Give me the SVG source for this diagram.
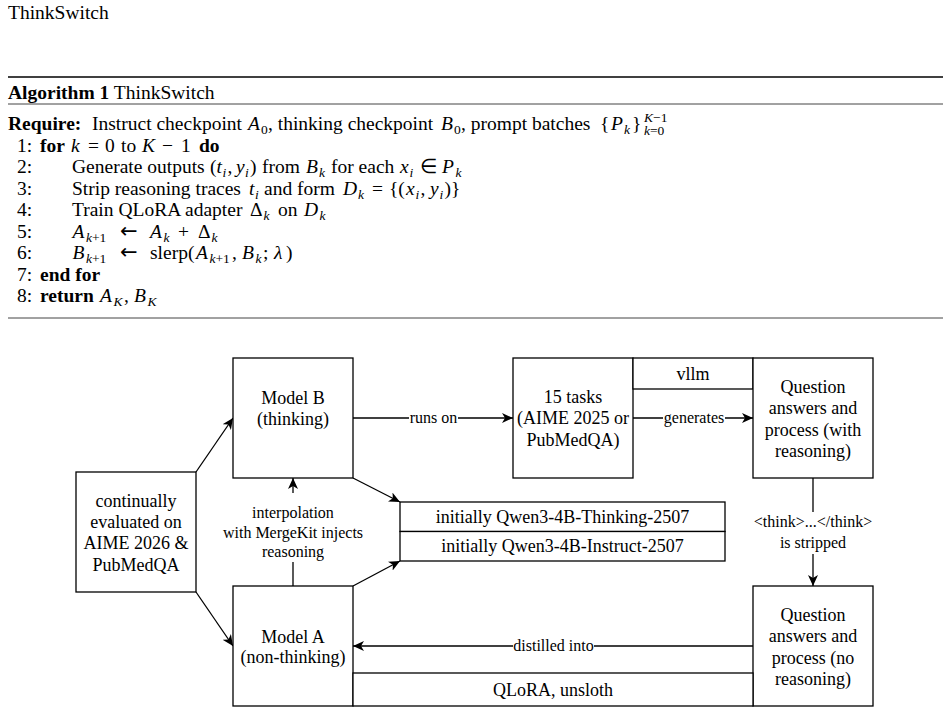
<svg xmlns="http://www.w3.org/2000/svg" width="949" height="713" viewBox="0 0 949 713">
<defs>
<style>
text{font-family:"Liberation Serif","Times New Roman",serif;fill:#000}
.alg{font-size:19.5px}
.b{font-weight:bold}
.i{font-style:italic}
.s{font-size:13.5px}
.ar{font-family:"DejaVu Sans",sans-serif;font-size:21px}
.box{fill:#fff;stroke:#000;stroke-width:1.3}
.nt{font-size:18px;text-anchor:middle}
.edge{fill:none;stroke:#000;stroke-width:1.3}
.lbl{font-size:16px;text-anchor:middle}
.lbg{fill:#fff;stroke:none}
</style>
<marker id="arr" viewBox="0 0 11 10" refX="11" refY="5" markerWidth="11" markerHeight="10" markerUnits="userSpaceOnUse" orient="auto">
<path d="M0,0 L11,5 L0,10 L3,5 Z" fill="#000"/>
</marker>
</defs>
<rect width="949" height="713" fill="#fff"/>

<g id="algorithm">
<text x="8" y="19" class="alg">ThinkSwitch</text>
<line x1="8" y1="77" x2="943" y2="77" stroke="#000" stroke-width="1.6"/>
<text x="8" y="99" class="alg"><tspan class="b">Algorithm 1</tspan> ThinkSwitch</text>
<line x1="8" y1="104" x2="943" y2="104" stroke="#444" stroke-width="1"/>

<text class="alg" y="130"><tspan x="8" class="b">Require:</tspan><tspan x="92">Instruct checkpoint</tspan><tspan x="248" class="i">A</tspan><tspan x="261" y="134" class="s">0</tspan><tspan x="268" y="130">, thinking checkpoint</tspan><tspan x="441" class="i">B</tspan><tspan x="454" y="134" class="s">0</tspan><tspan x="461" y="130">, prompt batches</tspan><tspan x="600">{</tspan><tspan x="611" class="i">P</tspan><tspan x="624" y="134" class="s i">k</tspan><tspan x="632" y="130">}</tspan><tspan x="644" y="122" class="s"><tspan class="i">K</tspan>−1</tspan><tspan x="644" y="135" class="s"><tspan class="i">k</tspan>=0</tspan></text>

<text class="alg" y="151.5"><tspan x="17">1:</tspan><tspan x="40" class="b">for</tspan><tspan x="71" class="i">k</tspan><tspan x="88">=</tspan><tspan x="105">0</tspan><tspan x="121">to</tspan><tspan x="142" class="i">K</tspan><tspan x="162">−</tspan><tspan x="181">1</tspan><tspan x="199" class="b">do</tspan></text>

<text class="alg" y="173"><tspan x="17">2:</tspan><tspan x="72">Generate outputs</tspan><tspan x="210">(</tspan><tspan x="216.5" class="i">t</tspan><tspan x="222.5" y="177" class="s i">i</tspan><tspan x="227.5" y="173">,</tspan><tspan x="236" class="i">y</tspan><tspan x="245" y="177" class="s i">i</tspan><tspan x="250" y="173">)</tspan><tspan x="262">from</tspan><tspan x="306" class="i">B</tspan><tspan x="319" y="177" class="s i">k</tspan><tspan x="331" y="173">for each</tspan><tspan x="400" class="i">x</tspan><tspan x="409.5" y="177" class="s i">i</tspan><tspan x="420" y="173">∈</tspan><tspan x="442" class="i">P</tspan><tspan x="455.5" y="177" class="s i">k</tspan></text>

<text class="alg" y="194.5"><tspan x="17">3:</tspan><tspan x="72">Strip reasoning traces</tspan><tspan x="249" class="i">t</tspan><tspan x="255" y="198.5" class="s i">i</tspan><tspan x="264" y="194.5">and form</tspan><tspan x="343" class="i">D</tspan><tspan x="358" y="198.5" class="s i">k</tspan><tspan x="372" y="194.5">=</tspan><tspan x="389">{(</tspan><tspan x="406" class="i">x</tspan><tspan x="415.5" y="198.5" class="s i">i</tspan><tspan x="420.5" y="194.5">,</tspan><tspan x="430" class="i">y</tspan><tspan x="439.5" y="198.5" class="s i">i</tspan><tspan x="444.5" y="194.5">)}</tspan></text>

<text class="alg" y="216"><tspan x="17">4:</tspan><tspan x="72">Train QLoRA adapter</tspan><tspan x="250">Δ</tspan><tspan x="263.5" y="220" class="s i">k</tspan><tspan x="278" y="216">on</tspan><tspan x="304" class="i">D</tspan><tspan x="319.5" y="220" class="s i">k</tspan></text>

<text class="alg" y="237.5"><tspan x="17">5:</tspan><tspan x="72.5" class="i">A</tspan><tspan x="86" y="241.5" class="s"><tspan class="i">k</tspan>+1</tspan><tspan x="120" y="237.5" class="ar">←</tspan><tspan x="150" class="i">A</tspan><tspan x="163.5" y="241.5" class="s i">k</tspan><tspan x="178" y="237.5">+</tspan><tspan x="198">Δ</tspan><tspan x="211.5" y="241.5" class="s i">k</tspan></text>

<text class="alg" y="259"><tspan x="17">6:</tspan><tspan x="72.5" class="i">B</tspan><tspan x="86" y="263" class="s"><tspan class="i">k</tspan>+1</tspan><tspan x="120" y="259" class="ar">←</tspan><tspan x="150">slerp(</tspan><tspan x="196" class="i">A</tspan><tspan x="209.5" y="263" class="s"><tspan class="i">k</tspan>+1</tspan><tspan x="232" y="259">,</tspan><tspan x="242" class="i">B</tspan><tspan x="255.5" y="263" class="s i">k</tspan><tspan x="263" y="259">;</tspan><tspan x="274" class="i">λ</tspan><tspan x="286">)</tspan></text>

<text class="alg" y="280.5"><tspan x="17">7:</tspan><tspan x="40" class="b">end for</tspan></text>

<text class="alg" y="302"><tspan x="17">8:</tspan><tspan x="40" class="b">return</tspan><tspan x="100" class="i">A</tspan><tspan x="113.5" y="306" class="s i">K</tspan><tspan x="124" y="302">,</tspan><tspan x="134" class="i">B</tspan><tspan x="147.5" y="306" class="s i">K</tspan></text>
<line x1="8" y1="318" x2="943" y2="318" stroke="#444" stroke-width="1"/>
</g>

<g id="connectors">
<path class="edge" d="M196,472 L233,418" marker-end="url(#arr)"/>
<path class="edge" d="M196,592 L233,646" marker-end="url(#arr)"/>
<path class="edge" d="M353,418 L513,418" marker-end="url(#arr)"/>
<path class="edge" d="M633,418 L753,418" marker-end="url(#arr)"/>
<path class="edge" d="M813,478 L813,586" marker-end="url(#arr)"/>
<path class="edge" d="M753,646 L353,646" marker-end="url(#arr)"/>
<path class="edge" d="M293,586 L293,478" marker-end="url(#arr)"/>
<path class="edge" d="M353,478 L400,502" marker-end="url(#arr)"/>
<path class="edge" d="M353,586 L400,561" marker-end="url(#arr)"/>
<rect class="lbg" x="409" y="409" width="49" height="18"/>
<text class="lbl" x="433.5" y="423">runs on</text>
<rect class="lbg" x="663" y="409" width="62" height="18"/>
<text class="lbl" x="694" y="423">generates</text>
<rect class="lbg" x="756" y="512" width="114" height="42"/>
<text class="lbl" x="813" y="527">&lt;think&gt;...&lt;/think&gt;</text>
<text class="lbl" x="813" y="548">is stripped</text>
<rect class="lbg" x="513" y="637" width="81" height="18"/>
<text class="lbl" x="553.5" y="651">distilled into</text>
<rect class="lbg" x="221" y="493" width="144" height="69"/>
<text class="lbl" x="293" y="518">interpolation</text>
<text class="lbl" x="293" y="538">with MergeKit injects</text>
<text class="lbl" x="293" y="557">reasoning</text>
</g>

<g id="eval">
<rect class="box" x="76" y="472" width="120" height="120"/>
<text class="nt" x="136" y="507">continually</text>
<text class="nt" x="136" y="528">evaluated on</text>
<text class="nt" x="136" y="549">AIME 2026 &amp;</text>
<text class="nt" x="136" y="571">PubMedQA</text>
</g>
<g id="modelB">
<rect class="box" x="233" y="358" width="120" height="120"/>
<text class="nt" x="293" y="404">Model B</text>
<text class="nt" x="293" y="425">(thinking)</text>
</g>
<g id="modelA">
<rect class="box" x="233" y="586" width="120" height="120"/>
<text class="nt" x="293" y="643">Model A</text>
<text class="nt" x="293" y="663">(non-thinking)</text>
</g>
<g id="tasks">
<rect class="box" x="513" y="358" width="120" height="120"/>
<text class="nt" x="573" y="403">15 tasks</text>
<text class="nt" x="573" y="424">(AIME 2025 or</text>
<text class="nt" x="573" y="446">PubMedQA)</text>
</g>
<g id="vllm">
<rect class="box" x="633" y="358" width="120" height="31"/>
<text class="nt" x="693" y="380">vllm</text>
</g>
<g id="qaWith">
<rect class="box" x="753" y="358" width="120" height="120"/>
<text class="nt" x="813" y="393">Question</text>
<text class="nt" x="813" y="414">answers and</text>
<text class="nt" x="813" y="436">process (with</text>
<text class="nt" x="813" y="457">reasoning)</text>
</g>
<g id="qaNo">
<rect class="box" x="753" y="586" width="120" height="120"/>
<text class="nt" x="813" y="621">Question</text>
<text class="nt" x="813" y="642">answers and</text>
<text class="nt" x="813" y="664">process (no</text>
<text class="nt" x="813" y="685">reasoning)</text>
</g>
<g id="qlora">
<rect class="box" x="353" y="673" width="400" height="33"/>
<text class="nt" x="553" y="696">QLoRA, unsloth</text>
</g>
<g id="initThinking">
<rect class="box" x="400" y="502" width="325" height="29.5"/>
<text class="nt" x="562.5" y="523">initially Qwen3-4B-Thinking-2507</text>
</g>
<g id="initInstruct">
<rect class="box" x="400" y="531.5" width="325" height="29.5"/>
<text class="nt" x="562.5" y="552">initially Qwen3-4B-Instruct-2507</text>
</g>
</svg>
